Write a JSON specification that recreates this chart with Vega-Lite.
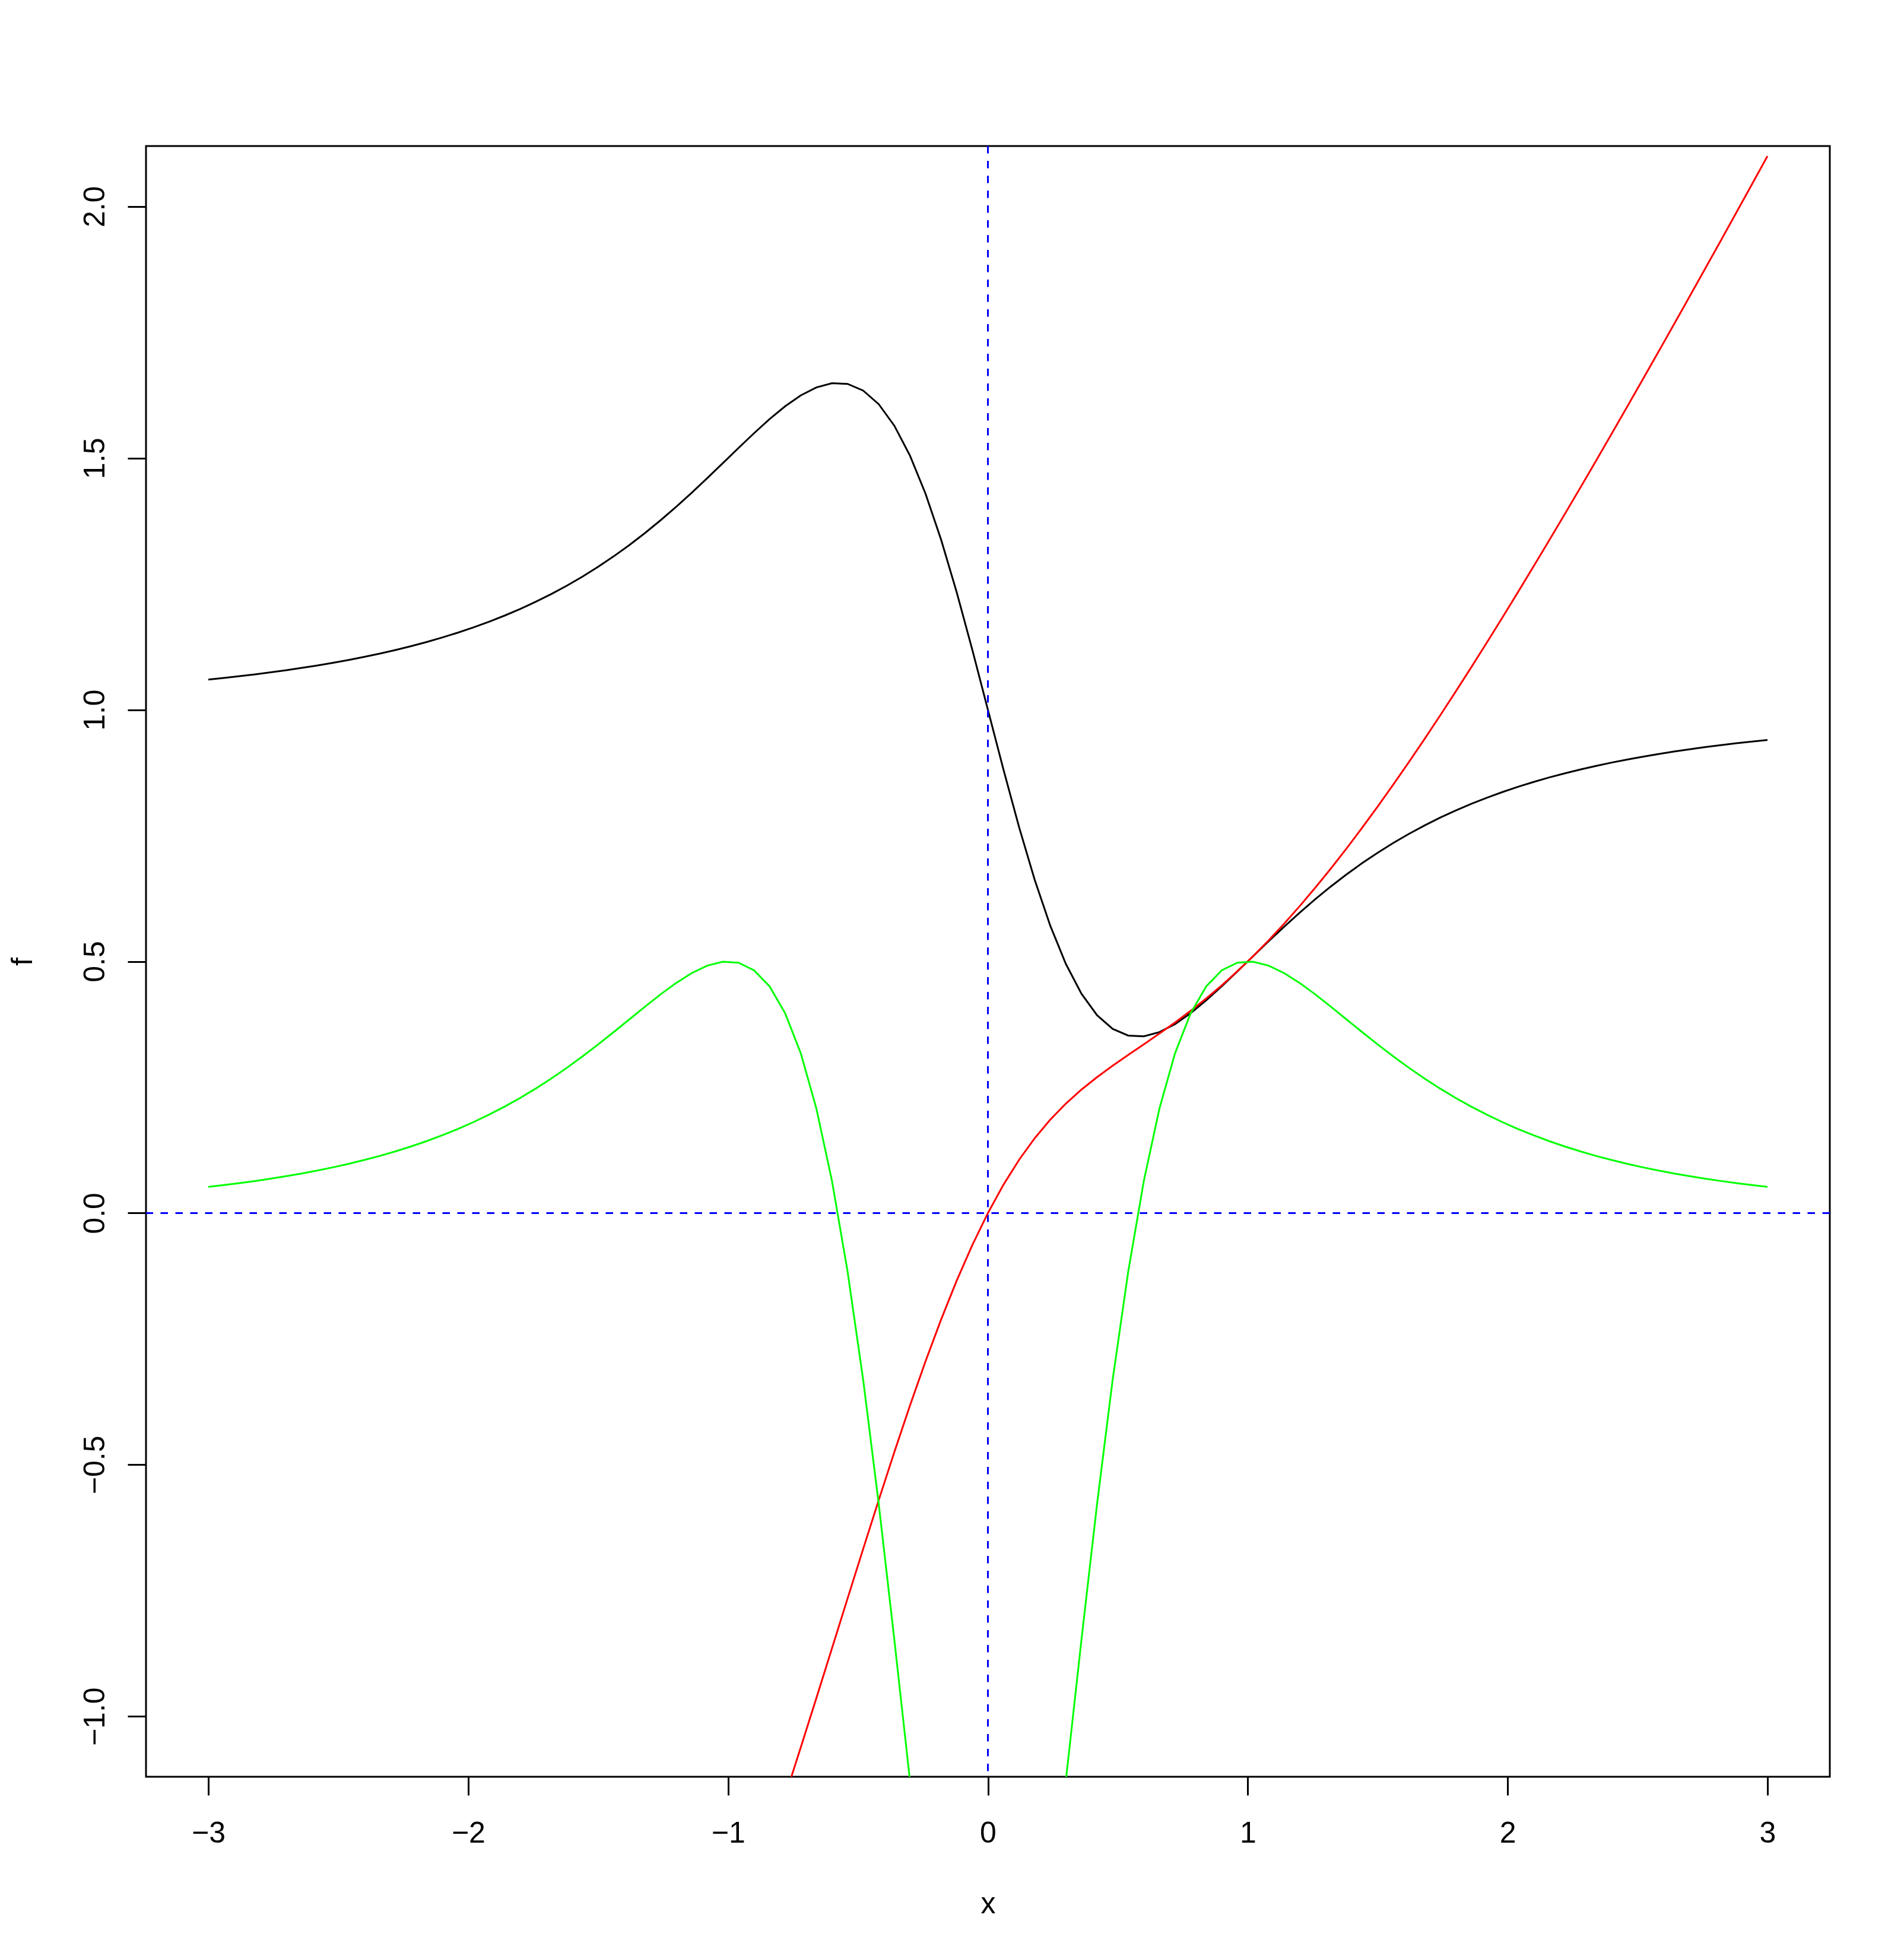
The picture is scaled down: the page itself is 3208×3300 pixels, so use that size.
{
  "$schema": "https://vega.github.io/schema/vega-lite/v6.json",
  "width": 2837,
  "height": 2747,
  "autosize": {"type": "none"},
  "padding": {"left": 246, "top": 246, "right": 125, "bottom": 307},
  "background": "white",
  "config": {
    "font": "Liberation Sans",
    "view": {"stroke": "black", "strokeWidth": 3},
    "axis": {
      "domain": false,
      "grid": false,
      "ticks": true,
      "tickColor": "black",
      "tickWidth": 3,
      "tickSize": 31,
      "labelFont": "Liberation Sans",
      "labelFontSize": 50,
      "labelColor": "black",
      "labelFlush": false,
      "labelOverlap": false,
      "titleFont": "Liberation Sans",
      "titleFontSize": 50,
      "titleFontWeight": "normal",
      "titleColor": "black"
    }
  },
  "datasets": {
    "curves": [
      {"x": -3.00, "f": 1.06, "F": -3.9, "d2": 0.052},
      {"x": -2.94, "f": 1.063228, "F": -3.836304, "d2": 0.055596},
      {"x": -2.88, "f": 1.066678, "F": -3.772408, "d2": 0.059517},
      {"x": -2.82, "f": 1.07037, "F": -3.708298, "d2": 0.063726},
      {"x": -2.76, "f": 1.074332, "F": -3.643958, "d2": 0.068312},
      {"x": -2.70, "f": 1.078575, "F": -3.579373, "d2": 0.073254},
      {"x": -2.64, "f": 1.083128, "F": -3.514523, "d2": 0.07868},
      {"x": -2.58, "f": 1.088024, "F": -3.44939, "d2": 0.084527},
      {"x": -2.52, "f": 1.093285, "F": -3.383953, "d2": 0.090906},
      {"x": -2.46, "f": 1.098946, "F": -3.318188, "d2": 0.097851},
      {"x": -2.40, "f": 1.105038, "F": -3.252071, "d2": 0.105397},
      {"x": -2.34, "f": 1.111604, "F": -3.185574, "d2": 0.113634},
      {"x": -2.28, "f": 1.118688, "F": -3.118668, "d2": 0.122571},
      {"x": -2.22, "f": 1.126331, "F": -3.05132, "d2": 0.132311},
      {"x": -2.16, "f": 1.134581, "F": -2.983497, "d2": 0.142939},
      {"x": -2.10, "f": 1.143501, "F": -2.915157, "d2": 0.154489},
      {"x": -2.04, "f": 1.153143, "F": -2.846261, "d2": 0.167035},
      {"x": -1.98, "f": 1.163564, "F": -2.776765, "d2": 0.180659},
      {"x": -1.92, "f": 1.174843, "F": -2.706617, "d2": 0.19547},
      {"x": -1.86, "f": 1.187049, "F": -2.635764, "d2": 0.211492},
      {"x": -1.80, "f": 1.20025, "F": -2.564151, "d2": 0.228795},
      {"x": -1.74, "f": 1.214528, "F": -2.491713, "d2": 0.247431},
      {"x": -1.68, "f": 1.229968, "F": -2.418384, "d2": 0.267415},
      {"x": -1.62, "f": 1.246645, "F": -2.344092, "d2": 0.288729},
      {"x": -1.56, "f": 1.264642, "F": -2.26876, "d2": 0.311297},
      {"x": -1.50, "f": 1.284024, "F": -2.192308, "d2": 0.335007},
      {"x": -1.44, "f": 1.304857, "F": -2.114649, "d2": 0.359598},
      {"x": -1.38, "f": 1.327187, "F": -2.035695, "d2": 0.384752},
      {"x": -1.32, "f": 1.351028, "F": -1.955356, "d2": 0.409912},
      {"x": -1.26, "f": 1.376365, "F": -1.873541, "d2": 0.434363},
      {"x": -1.20, "f": 1.403118, "F": -1.790164, "d2": 0.457091},
      {"x": -1.14, "f": 1.43115, "F": -1.705142, "d2": 0.476748},
      {"x": -1.08, "f": 1.460231, "F": -1.618405, "d2": 0.491603},
      {"x": -1.02, "f": 1.490004, "F": -1.5299, "d2": 0.49942},
      {"x": -0.96, "f": 1.519967, "F": -1.4396, "d2": 0.497437},
      {"x": -0.90, "f": 1.549434, "F": -1.347514, "d2": 0.482313},
      {"x": -0.84, "f": 1.577503, "F": -1.253696, "d2": 0.450166},
      {"x": -0.78, "f": 1.603027, "F": -1.158264, "d2": 0.396651},
      {"x": -0.72, "f": 1.624581, "F": -1.061413, "d2": 0.31719},
      {"x": -0.66, "f": 1.640482, "F": -0.963427, "d2": 0.207389},
      {"x": -0.60, "f": 1.648789, "F": -0.864706, "d2": 0.063607},
      {"x": -0.54, "f": 1.647393, "F": -0.765766, "d2": -0.116212},
      {"x": -0.48, "f": 1.634131, "F": -0.667256, "d2": -0.331564},
      {"x": -0.42, "f": 1.606973, "F": -0.569949, "d2": -0.578365},
      {"x": -0.36, "f": 1.564265, "F": -0.474731, "d2": -0.848084},
      {"x": -0.30, "f": 1.505008, "F": -0.382569, "d2": -1.127387},
      {"x": -0.24, "f": 1.429139, "F": -0.294463, "d2": -1.398544},
      {"x": -0.18, "f": 1.337759, "F": -0.211383, "d2": -1.640884},
      {"x": -0.12, "f": 1.233234, "F": -0.134196, "d2": -1.833256},
      {"x": -0.06, "f": 1.119141, "F": -0.063587, "d2": -1.957188},
      {"x": 0.00, "f": 1.0, "F": 0.0, "d2": -2.0},
      {"x": 0.06, "f": 0.880859, "F": 0.056413, "d2": -1.957188},
      {"x": 0.12, "f": 0.766766, "F": 0.105804, "d2": -1.833256},
      {"x": 0.18, "f": 0.662241, "F": 0.148617, "d2": -1.640884},
      {"x": 0.24, "f": 0.570861, "F": 0.185537, "d2": -1.398544},
      {"x": 0.30, "f": 0.494992, "F": 0.217431, "d2": -1.127387},
      {"x": 0.36, "f": 0.435735, "F": 0.245269, "d2": -0.848084},
      {"x": 0.42, "f": 0.393027, "F": 0.270051, "d2": -0.578365},
      {"x": 0.48, "f": 0.365869, "F": 0.292744, "d2": -0.331564},
      {"x": 0.54, "f": 0.352607, "F": 0.314234, "d2": -0.116212},
      {"x": 0.60, "f": 0.351211, "F": 0.335294, "d2": 0.063607},
      {"x": 0.66, "f": 0.359518, "F": 0.356573, "d2": 0.207389},
      {"x": 0.72, "f": 0.375419, "F": 0.378587, "d2": 0.31719},
      {"x": 0.78, "f": 0.396973, "F": 0.401736, "d2": 0.396651},
      {"x": 0.84, "f": 0.422497, "F": 0.426304, "d2": 0.450166},
      {"x": 0.90, "f": 0.450566, "F": 0.452486, "d2": 0.482313},
      {"x": 0.96, "f": 0.480033, "F": 0.4804, "d2": 0.497437},
      {"x": 1.02, "f": 0.509996, "F": 0.5101, "d2": 0.49942},
      {"x": 1.08, "f": 0.539769, "F": 0.541595, "d2": 0.491603},
      {"x": 1.14, "f": 0.56885, "F": 0.574858, "d2": 0.476748},
      {"x": 1.20, "f": 0.596882, "F": 0.609836, "d2": 0.457091},
      {"x": 1.26, "f": 0.623635, "F": 0.646459, "d2": 0.434363},
      {"x": 1.32, "f": 0.648972, "F": 0.684644, "d2": 0.409912},
      {"x": 1.38, "f": 0.672813, "F": 0.724305, "d2": 0.384752},
      {"x": 1.44, "f": 0.695143, "F": 0.765351, "d2": 0.359598},
      {"x": 1.50, "f": 0.715976, "F": 0.807692, "d2": 0.335007},
      {"x": 1.56, "f": 0.735358, "F": 0.85124, "d2": 0.311297},
      {"x": 1.62, "f": 0.753355, "F": 0.895908, "d2": 0.288729},
      {"x": 1.68, "f": 0.770032, "F": 0.941616, "d2": 0.267415},
      {"x": 1.74, "f": 0.785472, "F": 0.988287, "d2": 0.247431},
      {"x": 1.80, "f": 0.79975, "F": 1.035849, "d2": 0.228795},
      {"x": 1.86, "f": 0.812951, "F": 1.084236, "d2": 0.211492},
      {"x": 1.92, "f": 0.825157, "F": 1.133383, "d2": 0.19547},
      {"x": 1.98, "f": 0.836436, "F": 1.183235, "d2": 0.180659},
      {"x": 2.04, "f": 0.846857, "F": 1.233739, "d2": 0.167035},
      {"x": 2.10, "f": 0.856499, "F": 1.284843, "d2": 0.154489},
      {"x": 2.16, "f": 0.865419, "F": 1.336503, "d2": 0.142939},
      {"x": 2.22, "f": 0.873669, "F": 1.38868, "d2": 0.132311},
      {"x": 2.28, "f": 0.881312, "F": 1.441332, "d2": 0.122571},
      {"x": 2.34, "f": 0.888396, "F": 1.494426, "d2": 0.113634},
      {"x": 2.40, "f": 0.894962, "F": 1.547929, "d2": 0.105397},
      {"x": 2.46, "f": 0.901054, "F": 1.601812, "d2": 0.097851},
      {"x": 2.52, "f": 0.906715, "F": 1.656047, "d2": 0.090906},
      {"x": 2.58, "f": 0.911976, "F": 1.71061, "d2": 0.084527},
      {"x": 2.64, "f": 0.916872, "F": 1.765477, "d2": 0.07868},
      {"x": 2.70, "f": 0.921425, "F": 1.820627, "d2": 0.073254},
      {"x": 2.76, "f": 0.925668, "F": 1.876042, "d2": 0.068312},
      {"x": 2.82, "f": 0.92963, "F": 1.931702, "d2": 0.063726},
      {"x": 2.88, "f": 0.933322, "F": 1.987592, "d2": 0.059517},
      {"x": 2.94, "f": 0.936772, "F": 2.043696, "d2": 0.055596},
      {"x": 3.00, "f": 0.94, "F": 2.1, "d2": 0.052}
    ],
    "reflines": [{"at": 0}]
  },
  "layer": [
    {
      "data": {"name": "curves"},
      "mark": {"type": "line", "color": "#000000", "strokeWidth": 3, "clip": true},
      "encoding": {
        "x": {
          "field": "x", "type": "quantitative", "title": "x",
          "scale": {"domain": [-3.24, 3.24], "nice": false, "zero": false},
          "axis": {
            "values": [-3, -2, -1, 0, 1, 2, 3],
            "format": "d",
            "labelPadding": 79,
            "labelBaseline": "alphabetic",
            "labelAlign": "center",
            "titleX": 1418.5,
            "titleY": 229,
            "titleAlign": "center",
            "titleBaseline": "alphabetic"
          }
        },
        "y": {
          "field": "f", "type": "quantitative", "title": "f",
          "scale": {"domain": [-1.12, 2.12], "nice": false, "zero": false},
          "axis": {
            "values": [-1, -0.5, 0, 0.5, 1, 1.5, 2],
            "format": ".1f",
            "labelAngle": -90,
            "labelAlign": "center",
            "labelBaseline": "alphabetic",
            "labelPadding": 40,
            "titleAngle": -90,
            "titleX": -193,
            "titleY": 1373.5,
            "titleAlign": "center",
            "titleBaseline": "alphabetic"
          }
        }
      }
    },
    {
      "data": {"name": "reflines"},
      "mark": {"type": "rule", "color": "#0000FF", "strokeWidth": 3, "strokeDash": [12.5, 12.5], "clip": true},
      "encoding": {
        "x": {"field": "at", "type": "quantitative", "title": "x"}
      }
    },
    {
      "data": {"name": "reflines"},
      "mark": {"type": "rule", "color": "#0000FF", "strokeWidth": 3, "strokeDash": [12.5, 12.5], "clip": true},
      "encoding": {
        "y": {"field": "at", "type": "quantitative", "title": "f"}
      }
    },
    {
      "data": {"name": "curves"},
      "mark": {"type": "line", "color": "#FF0000", "strokeWidth": 3, "clip": true},
      "encoding": {
        "x": {"field": "x", "type": "quantitative", "title": "x"},
        "y": {"field": "F", "type": "quantitative", "title": "f"}
      }
    },
    {
      "data": {"name": "curves"},
      "mark": {"type": "line", "color": "#00FF00", "strokeWidth": 3, "clip": true},
      "encoding": {
        "x": {"field": "x", "type": "quantitative", "title": "x"},
        "y": {"field": "d2", "type": "quantitative", "title": "f"}
      }
    }
  ]
}
